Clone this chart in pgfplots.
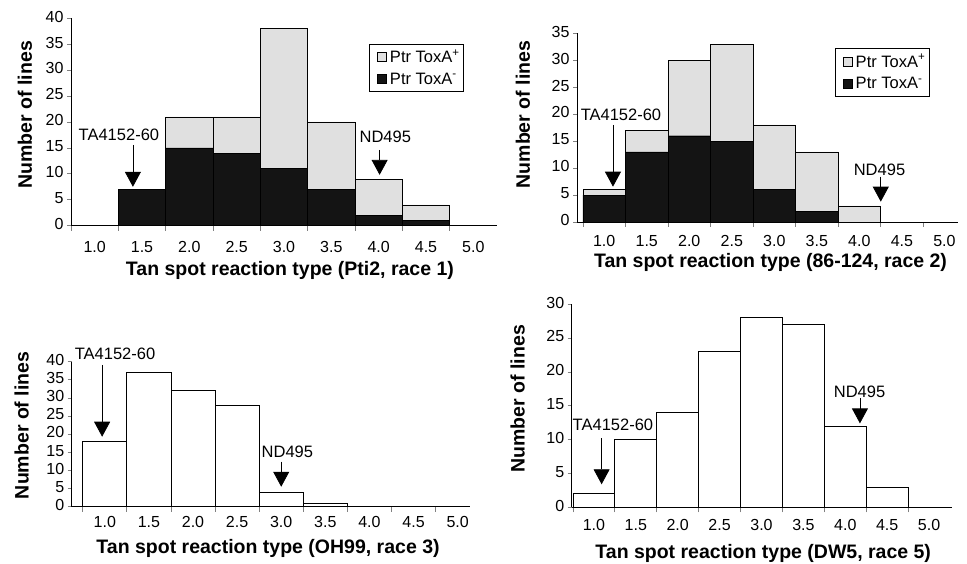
\documentclass[border=0pt]{standalone}
\usepackage{fontspec}
\setmainfont{Liberation Sans}
\usepackage{pgfplots}
\pgfplotsset{compat=1.18}
\usetikzlibrary{arrows.meta}
\definecolor{toxplus}{HTML}{E0E0E0}
\definecolor{toxminus}{HTML}{141414}

\pgfplotsset{
  hist/.style={
    scale only axis, clip=false,
    axis x line=bottom, axis y line=left,
    axis line style={-, line width=0.8pt},
    ymin=0, xmax=5.25,
    xtick={1,1.5,...,5},
    xticklabels={1.0,1.5,2.0,2.5,3.0,3.5,4.0,4.5,5.0},
    minor xtick={0.75,1.25,...,4.75},
    major x tick style={draw=none},
    minor x tick style={line width=0.8pt},
    major y tick style={line width=0.8pt},
    tick align=outside,
    major tick length=4pt, minor tick length=5pt,
    ytick distance=5,
    typeset ticklabels with strut,
    tick label style={font=\fontsize{16}{19}\selectfont},
    /pgf/number format/assume math mode=true,
    label style={font=\bfseries\fontsize{19.5}{22}\selectfont},
    ylabel={Number of lines},
    bar width=0.5,
    legend style={draw=black, line width=0.6pt, font=\fontsize{16.5}{19}\selectfont,
      anchor=north west, legend cell align=left, inner xsep=1pt, inner ysep=3pt,
      row sep=4pt, nodes={inner sep=2.5pt}},
  },
  sqlegend/.style={legend image code/.code={
    \path[draw=none, fill=none] (-7pt,0) -- (10pt,0);
    \draw[##1, line width=0.6pt] (0pt,-4.5pt) rectangle (9pt,4.5pt);}},
}
\tikzset{
  callout/.style={-{Triangle[width=16pt,length=15pt]}, line width=0.8pt},
  note/.style={font=\fontsize{16.5}{19}\selectfont},
}

\begin{document}
\begin{tikzpicture}
\useasboundingbox (0,0) rectangle (967pt,564pt);

% race 1
\begin{axis}[hist, ybar stacked, reverse legend,
  at={(71pt,338.3pt)}, anchor=south west, width=426pt, height=207.4pt,
  xmin=0.75, ymax=40,
  xticklabel style={yshift=-6pt},
  xlabel={Tan spot reaction type (Pti2, race 1)},
  xlabel style={at={(axis description cs:0.514,-0.217)}, anchor=center},
  ylabel style={at={(axis description cs:-0.108,0.535)}, anchor=center},
  legend style={at={(axis description cs:0.70,0.878)}}]
\addplot[fill=toxminus, draw=black, sqlegend]
  coordinates {(1.5,7) (2.0,15) (2.5,14) (3.0,11) (3.5,7) (4.0,2) (4.5,1)};
\addplot[fill=toxplus, draw=black, sqlegend]
  coordinates {(1.5,0) (2.0,6) (2.5,7) (3.0,27) (3.5,13) (4.0,7) (4.5,3)};
\legend{Ptr ToxA\textsuperscript{-}, Ptr ToxA\textsuperscript{+}}
\draw[callout] (axis cs:1.404,15.6) -- (axis cs:1.404,7.5);
\node[note] at (axis cs:1.256,17.5) {TA4152-60};
\draw[callout] (axis cs:4.01,14.6) -- (axis cs:4.01,9.8);
\node[note] at (axis cs:4.07,17.1) {ND495};
\end{axis}

% race 2
\begin{axis}[hist, ybar stacked, reverse legend,
  at={(577pt,342pt)}, anchor=south west, width=381pt, height=188.7pt,
  xmin=0.68, xmax=5.16, ymax=35,
  xticklabel style={yshift=-4pt},
  xlabel={Tan spot reaction type (86-124, race 2)},
  xlabel style={at={(axis description cs:0.508,-0.217)}, anchor=center},
  ylabel style={at={(axis description cs:-0.142,0.569)}, anchor=center},
  legend style={at={(axis description cs:0.677,0.92)}}]
\addplot[fill=toxminus, draw=black, sqlegend]
  coordinates {(1.0,5) (1.5,13) (2.0,16) (2.5,15) (3.0,6) (3.5,2) (4.0,0)};
\addplot[fill=toxplus, draw=black, sqlegend]
  coordinates {(1.0,1) (1.5,4) (2.0,14) (2.5,18) (3.0,12) (3.5,11) (4.0,3)};
\legend{Ptr ToxA\textsuperscript{-}, Ptr ToxA\textsuperscript{+}}
\draw[callout] (axis cs:1.103,18.0) -- (axis cs:1.103,6.55);
\node[note] at (axis cs:1.197,19.8) {TA4152-60};
\draw[callout] (axis cs:4.252,8.4) -- (axis cs:4.252,3.77);
\node[note] at (axis cs:4.237,9.65) {ND495};
\end{axis}

% race 3
\begin{axis}[hist, ybar,
  at={(71.7pt,57.3pt)}, anchor=south west, width=398.3pt, height=145pt,
  xmin=0.625, xmax=5.14, ymax=40,
  xlabel={Tan spot reaction type (OH99, race 3)},
  xlabel style={at={(axis description cs:0.493,-0.287)}, anchor=center},
  ylabel style={at={(axis description cs:-0.1255,0.561)}, anchor=center}]
\addplot[fill=white, draw=black, line width=0.8pt]
  coordinates {(1.0,18) (1.5,37) (2.0,32) (2.5,28) (3.0,4) (3.5,1)};
\draw[callout] (axis cs:0.97,39.1) -- (axis cs:0.97,19.3);
\node[note] at (axis cs:1.116,42.3) {TA4152-60};
\draw[callout] (axis cs:3.0,12.4) -- (axis cs:3.0,5.5);
\node[note] at (axis cs:3.07,15.2) {ND495};
\end{axis}

% race 5
\begin{axis}[hist, ybar,
  at={(571.7pt,56.7pt)}, anchor=south west, width=380pt, height=203pt,
  xmin=0.735, xmax=5.27, ymax=30,
  xticklabel style={yshift=-2pt},
  xlabel={Tan spot reaction type (DW5, race 5)},
  xlabel style={at={(axis description cs:0.504,-0.2266)}, anchor=center},
  ylabel style={at={(axis description cs:-0.142,0.535)}, anchor=center}]
\addplot[fill=white, draw=black, line width=0.8pt]
  coordinates {(1.0,2) (1.5,10) (2.0,14) (2.5,23) (3.0,28) (3.5,27) (4.0,12) (4.5,3)};
\draw[callout] (axis cs:1.092,10.2) -- (axis cs:1.092,3.4);
\node[note] at (axis cs:1.227,12.2) {TA4152-60};
\draw[callout] (axis cs:4.175,16.1) -- (axis cs:4.175,12.4);
\node[note] at (axis cs:4.17,17.1) {ND495};
\end{axis}
\end{tikzpicture}
\end{document}
